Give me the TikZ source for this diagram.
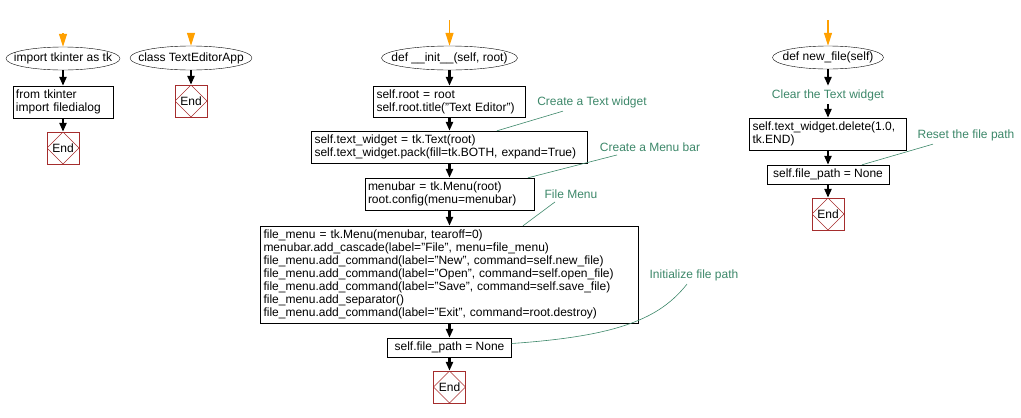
\documentclass[tikz,border=0pt]{standalone}
\usepackage{fontspec}
\setmainfont{Liberation Sans}
\usetikzlibrary{shapes.geometric,arrows.meta,calc}
\definecolor{endred}{RGB}{165,45,45}
\definecolor{notegreen}{RGB}{60,135,105}
\definecolor{startorange}{RGB}{255,160,0}

\begin{document}
\begin{tikzpicture}[x=1pt, y=-1pt,
  every node/.style={font=\fontsize{12}{13}\selectfont},
  startel/.style={ellipse, draw, inner sep=0pt, minimum height=23pt},
  codebox/.style={draw, align=left, inner xsep=3pt, inner ysep=0pt},
  endbox/.style={draw=endred, minimum size=32pt, inner sep=0pt,
    path picture={\draw[endred] (path picture bounding box.north) -- (path picture bounding box.east)
      -- (path picture bounding box.south) -- (path picture bounding box.west) -- cycle;}},
  note/.style={text=notegreen},
  noteline/.style={draw=notegreen, line width=0.6pt},
  flow/.style={-{Triangle[length=9pt,width=7pt]}, line width=2.5pt},
  startflow/.style={-{Triangle[length=13pt,width=8pt]}, line width=1.2pt, draw=startorange, fill=startorange}]
  \useasboundingbox (0,0) rectangle (1021,418);

  \coordinate (s1) at (63,33);
  \node[startel, minimum width=114pt] (imp1) at (63,58.5) {\makebox[0pt]{import tkinter as tk}};
  \node[codebox, text width=94pt, minimum height=32pt] (imp2) at (63,102) {from tkinter\\import filedialog};
  \node[endbox] (end1) at (63,148) {End};
  \draw[startflow] (s1) -- (imp1);
  \draw[flow] (imp1) -- (imp2);
  \draw[flow] (imp2) -- (end1);

  \coordinate (s2) at (191,33);
  \node[startel, minimum width=122pt, minimum height=24pt] (cls) at (191,58) {\makebox[0pt]{class TextEditorApp}};
  \node[endbox] (end2) at (191,101) {End};
  \draw[startflow] (s2) -- (cls);
  \draw[flow] (cls) -- (end2);

  \coordinate (s3) at (449.5,20);
  \node[startel, minimum width=136pt, minimum height=24pt] (init) at (449.5,58) {\makebox[0pt]{def \_\_init\_\_(self, root)}};
  \node[codebox, text width=146pt, minimum height=31pt] (rootbox) at (449.5,101.5) {self.root = root\\self.root.title("Text Editor")};
  \node[codebox, text width=270pt, minimum height=32pt] (textbox) at (449.5,147) {self.text\_widget = tk.Text(root)\\self.text\_widget.pack(fill=tk.BOTH, expand=True)};
  \node[codebox, text width=163pt, minimum height=32pt] (menubox) at (449.5,194) {menubar = tk.Menu(root)\\root.config(menu=menubar)};
  \node[codebox, text width=372pt, minimum height=97pt] (filebox) at (449.5,274.5) {file\_menu = tk.Menu(menubar, tearoff=0)\\
    menubar.add\_cascade(label="File", menu=file\_menu)\\
    file\_menu.add\_command(label="New", command=self.new\_file)\\
    file\_menu.add\_command(label="Open", command=self.open\_file)\\
    file\_menu.add\_command(label="Save", command=self.save\_file)\\
    file\_menu.add\_separator()\\
    file\_menu.add\_command(label="Exit", command=root.destroy)};
  \node[codebox, minimum width=124pt, minimum height=19pt] (pathbox) at (449.5,347.5) {self.file\_path = None};
  \node[endbox] (end3) at (449.5,387) {End};
  \draw[startflow] (s3) -- (init);
  \draw[flow] (init) -- (rootbox);
  \draw[flow] (rootbox) -- (textbox);
  \draw[flow] (textbox) -- (menubox);
  \draw[flow] (menubox) -- (filebox);
  \draw[flow] (filebox) -- (pathbox);
  \draw[flow] (pathbox) -- (end3);

  \coordinate (s4) at (828,20);
  \node[startel, minimum width=111pt] (newf) at (828,57.5) {\makebox[0pt]{def new\_file(self)}};
  \node[note] (clr) at (828,95) {Clear the Text widget};
  \node[codebox, text width=151pt, minimum height=32pt] (delbox) at (828,134) {self.text\_widget.delete(1.0,\\tk.END)};
  \node[codebox, minimum width=122pt, minimum height=19pt] (pathbox2) at (828,174.5) {self.file\_path = None};
  \node[endbox] (end4) at (828,214) {End};
  \draw[startflow] (s4) -- (newf);
  \draw[flow] (newf) -- (clr);
  \draw[flow] (clr) -- (delbox);
  \draw[flow] (delbox) -- (pathbox2);
  \draw[flow] (pathbox2) -- (end4);

  \node[note] (n1) at (592,102) {Create a Text widget};
  \node[note] (n2) at (650,147) {Create a Menu bar};
  \node[note] (n3) at (571,194) {File Menu};
  \node[note] (n4) at (694,275) {Initialize file path};
  \node[note] (n5) at (966,135) {Reset the file path};
  \draw[noteline] ($(n1.south)+(-29,0)$) -- ($(textbox.north)+(47.5,0)$);
  \draw[noteline] ($(n2.south)+(-33,0)$) -- ($(menubox.north)+(78.5,0)$);
  \draw[noteline] ($(n3.south)+(-16,0)$) -- ($(filebox.north)+(73.5,0)$);
  \draw[noteline] ($(n4.south)+(-7,0)$) .. controls (660,318) and (620,336) .. ($(pathbox.east)+(0,-4)$);
  \draw[noteline] ($(n5.south)+(-33,0)$) -- ($(pathbox2.north)+(34,0)$);
\end{tikzpicture}
\end{document}
